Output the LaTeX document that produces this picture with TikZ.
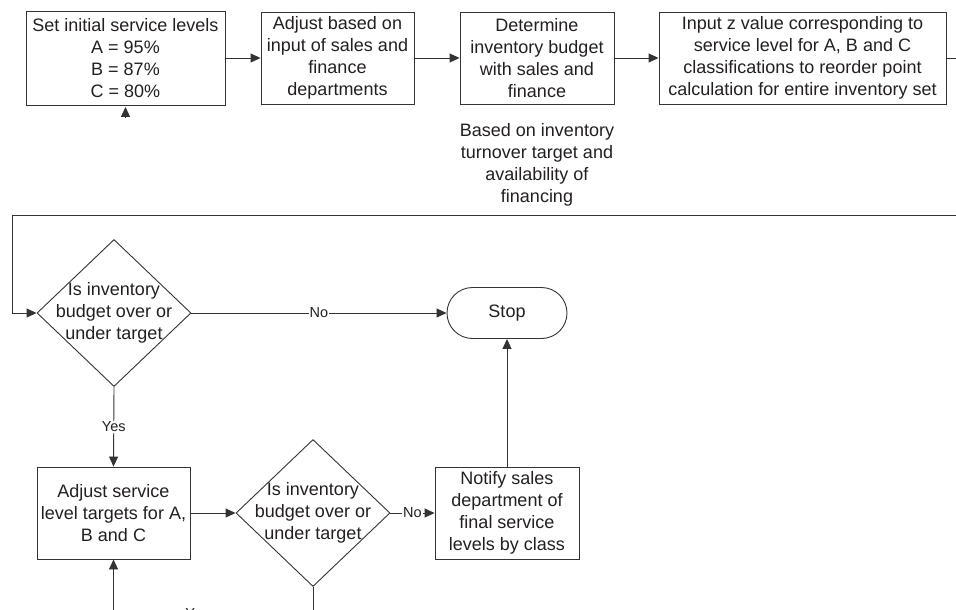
\documentclass[tikz,border=0pt]{standalone}
\usepackage{fontspec}
\setmainfont{Liberation Sans}
\usetikzlibrary{arrows.meta,shapes.geometric,shapes.misc}
\definecolor{ink}{HTML}{231F20}
\definecolor{linec}{HTML}{333333}
\tikzset{
  base/.style={font=\fontsize{18}{22}\selectfont, text=ink, align=center, inner sep=0pt},
  procbox/.style={base, draw=linec, line width=0.9pt, rectangle},
  decision/.style={draw=linec, line width=0.9pt, diamond, inner sep=0pt,
     minimum width=154pt, minimum height=147pt},
  terminal/.style={base, draw=linec, line width=0.9pt, rounded rectangle,
     minimum width=120pt, minimum height=51pt},
  conn/.style={draw=linec, line width=0.9pt},
  arr/.style={conn, -{Triangle[length=10pt,width=9pt]}},
  lbl/.style={font=\fontsize{14.5}{16}\selectfont, text=ink, fill=white, inner sep=1pt},
}
\begin{document}
\begin{tikzpicture}[x=1pt,y=-1pt]
\useasboundingbox (0,0) rectangle (956,610);
\clip (0,0) rectangle (956,610);

% top row
\node[procbox, minimum width=199pt, minimum height=94pt] (b1) at (125.5,58)
  {Set initial service levels\\A = 95\%\\B = 87\%\\C = 80\%};
\node[procbox, minimum width=153pt, minimum height=92pt] (b2) at (337.5,58)
  {Adjust based on\\input of sales and\\finance\\departments};
\node[procbox, minimum width=154pt, minimum height=92pt] (b3) at (537,58)
  {Determine\\inventory budget\\with sales and\\finance};
\node[procbox, minimum width=287pt, minimum height=92pt] (b4) at (802.5,58)
  {Input z value corresponding to\\service level for A, B and C\\classifications to reorder point\\calculation for entire inventory set};
\node[base] (note) at (537,165)
  {Based on inventory\\turnover target and\\availability of\\financing};

% lower part
\node[decision, label={[base]center:Is inventory\\budget over or\\under target}] (d1) at (114,313) {};
\node[terminal] (stop) at (507,313) {Stop};
\node[procbox, minimum width=153pt, minimum height=92pt] (b5) at (113.5,513)
  {Adjust service\\level targets for A,\\B and C};
\node[decision, label={[base]center:Is inventory\\budget over or\\under target}] (d2) at (313,513) {};
\node[procbox, minimum width=144pt, minimum height=92pt] (b6) at (507,513)
  {Notify sales\\department of\\final service\\levels by class};

% helper coordinates
\coordinate (a0) at (125.5,117);
\coordinate (r1) at (962,58);
\coordinate (r2) at (962,215);
\coordinate (l1) at (12,215);
\coordinate (bot) at (313,614);
\coordinate (botl) at (113.5,614);

% connectors
\draw[arr, shorten >=1.5pt] (a0) -- (b1.south);
\draw[arr] (b1.east) -- (b2.west);
\draw[arr] (b2.east) -- (b3.west);
\draw[arr] (b3.east) -- (b4.west);
\draw[conn] (b4.east) -- (r1);
\draw[arr] (r2) -- (l1) |- (d1.west);
\draw[arr] (d1.east) -- node[lbl] (no1) {No} (stop.west);
\draw[arr] (d1.south) -- node[lbl] (yes1) {Yes} (b5.north);
\draw[arr] (b5.east) -- (d2.west);
\draw[arr] (d2.east) -- node[lbl] (no2) {No} (b6.west);
\draw[arr] (b6.north) -- (stop.south);
\draw[arr] (d2.south) -- (bot) -- node[lbl, pos=0.58] (yes2) {Yes} (botl) -- (b5.south);
\end{tikzpicture}
\end{document}
